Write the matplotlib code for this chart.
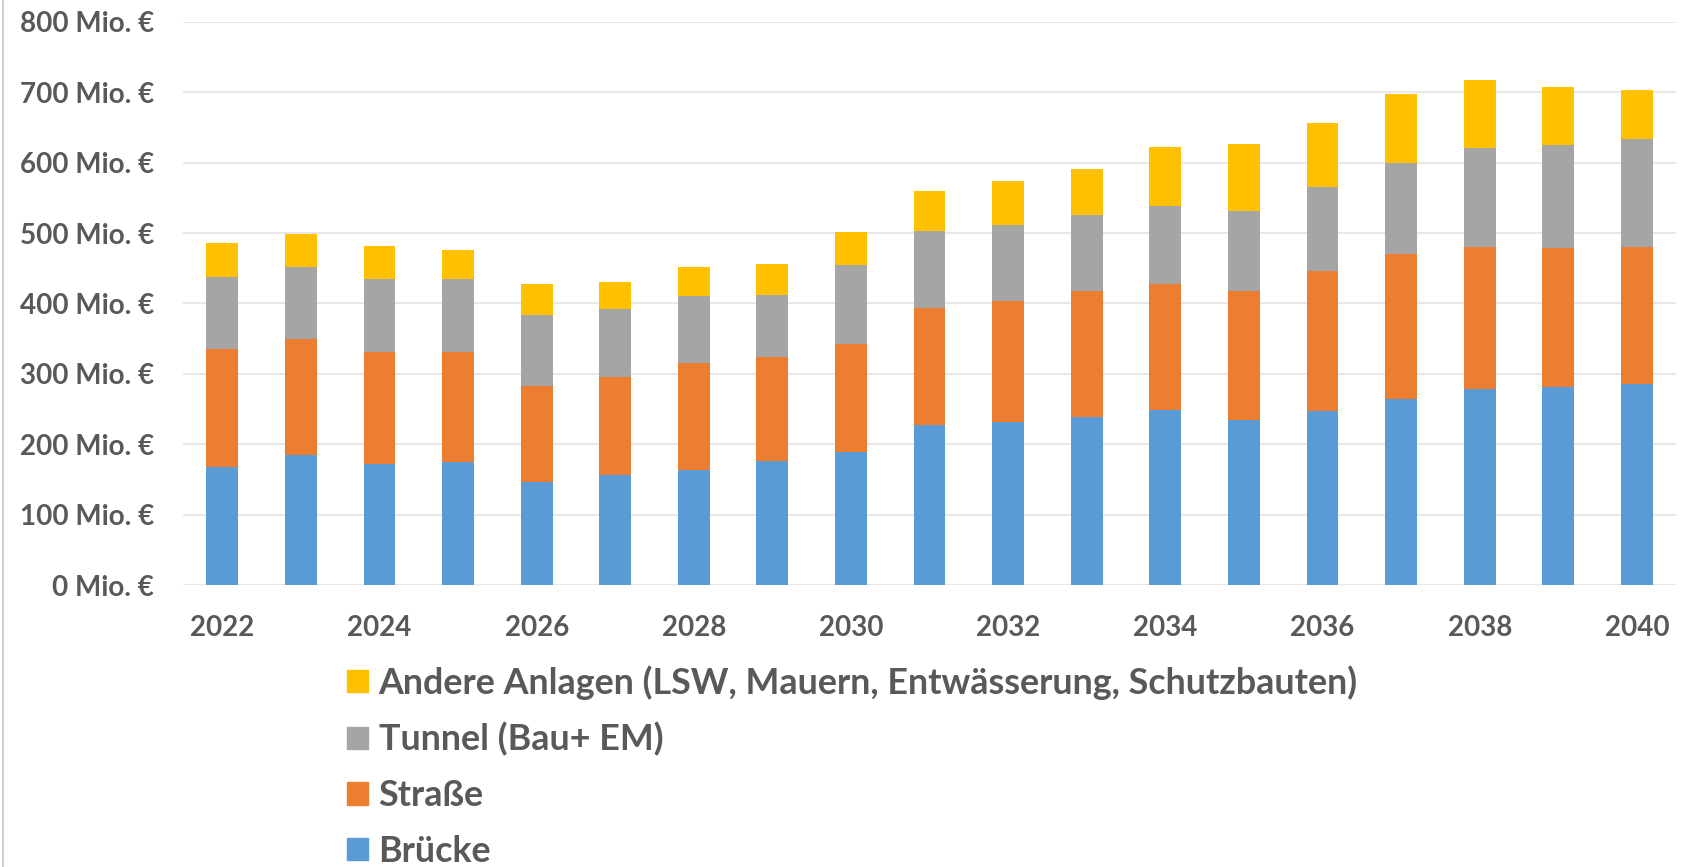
import numpy as np
import matplotlib
matplotlib.use("Agg")
import matplotlib.pyplot as plt
from matplotlib.patches import Patch
from matplotlib.lines import Line2D

# Werte in Mio. € je Jahr
jahre = list(range(2022, 2041))
bruecke = [168, 185, 172, 175, 146, 157, 164, 176, 189, 227, 232, 239, 249, 234, 247, 264, 278, 281, 286]
strasse = [168, 164, 159, 156, 137, 138, 152, 148, 153, 167, 171, 178, 179, 184, 199, 206, 202, 198, 194]
tunnel = [101, 103, 103, 103, 100, 97, 95, 88, 112, 109, 109, 108, 110, 113, 119, 129, 140, 146, 153]
andere = [49, 47, 48, 42, 44, 39, 41, 44, 47, 57, 62, 66, 84, 96, 91, 98, 97, 82, 70]

serien = [
    ("Brücke", bruecke, "#5B9BD5"),
    ("Straße", strasse, "#ED7D31"),
    ("Tunnel (Bau+ EM)", tunnel, "#A5A5A5"),
    ("Andere Anlagen (LSW, Mauern, Entwässerung, Schutzbauten)", andere, "#FFC000"),
]

TEXT = "#595959"
plt.rcParams["font.family"] = ["Lato", "DejaVu Sans"]
plt.rcParams["font.weight"] = "bold"


def plot_kosten():
    fig = plt.figure(figsize=(16.88, 8.67), dpi=100)
    ax = fig.add_axes([0.1084, 0.325, 0.8846, 0.65])

    x = np.arange(len(jahre))
    boden = np.zeros(len(jahre))
    for name, werte, farbe in serien:
        ax.bar(x, werte, width=0.405, bottom=boden, color=farbe, label=name, zorder=3)
        boden += np.array(werte)

    ax.set_xlim(-0.5, len(jahre) - 0.5)
    ax.set_ylim(0, 800)
    ax.set_yticks(range(0, 801, 100))
    ax.set_yticklabels([f"{v} Mio. €" for v in range(0, 801, 100)])
    ax.set_xticks(x[::2])
    ax.set_xticklabels([str(j) for j in jahre[::2]])

    ax.tick_params(axis="both", length=0, labelsize=20, labelcolor=TEXT)
    ax.tick_params(axis="y", pad=21)
    ax.tick_params(axis="x", pad=21.5)
    for s in ax.spines.values():
        s.set_visible(False)
    ax.grid(axis="y", color="#E3E3E3", linewidth=1.2, zorder=0)
    ax.set_axisbelow(True)

    handles = [Patch(color=f) for _, _, f in serien][::-1]
    labels = [n for n, _, _ in serien][::-1]
    leg = fig.legend(
        handles, labels,
        loc="upper left",
        bbox_to_anchor=(347 / 1688, 1 - 665 / 867),
        frameon=False,
        fontsize=25.8,
        handlelength=0.58,
        handleheight=0.58,
        handletextpad=0.3,
        labelspacing=0.63,
        borderpad=0,
        borderaxespad=0,
    )
    for t in leg.get_texts():
        t.set_color(TEXT)

    # dünner Rahmen am linken Bildrand
    fig.add_artist(Line2D([0.002, 0.002], [0, 1], transform=fig.transFigure,
                          color="#D0D0D0", linewidth=1.5))

    fig.savefig("out.png", dpi=100, facecolor="white")


if __name__ == "__main__":
    plot_kosten()
